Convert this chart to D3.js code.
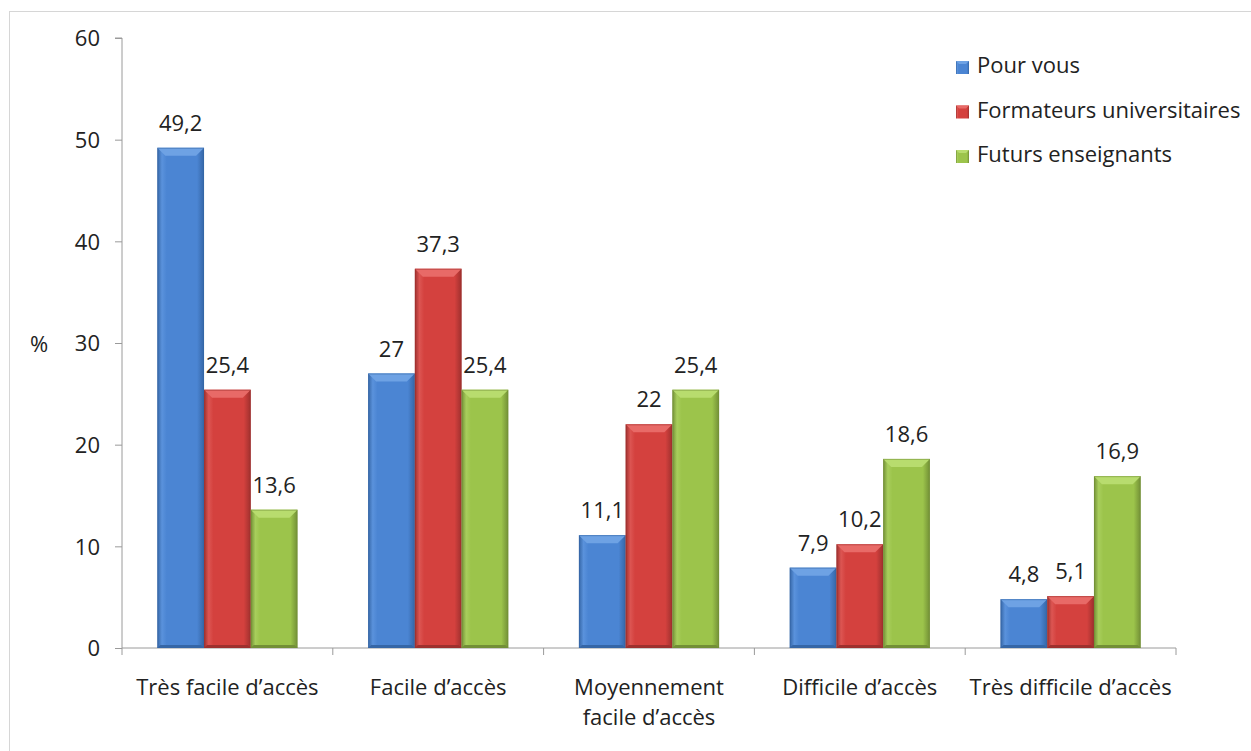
<!DOCTYPE html>
<html><head><meta charset="utf-8">
<script src="https://cdn.jsdelivr.net/npm/d3@7"></script>
<style>
body{margin:0;background:#fff;}
svg text{font-family:"Open Sans",Lato,sans-serif;fill:#222;}
</style></head>
<body><svg id="c" width="1251" height="751"></svg>
<script>
const categories = [["Très facile d’accès"],["Facile d’accès"],["Moyennement","facile d’accès"],["Difficile d’accès"],["Très difficile d’accès"]];
const seriesNames = ["Pour vous","Formateurs universitaires","Futurs enseignants"];
const pourVous = [49.2, 27, 11.1, 7.9, 4.8];
const formateurs = [25.4, 37.3, 22, 10.2, 5.1];
const futurs = [13.6, 25.4, 25.4, 18.6, 16.9];
const labelsPV = ["49,2","27","11,1","7,9","4,8"];
const labelsFo = ["25,4","37,3","22","10,2","5,1"];
const labelsFu = ["13,6","25,4","25,4","18,6","16,9"];
const yTicks = [0,10,20,30,40,50,60];

const series = [pourVous, formateurs, futurs];
const labels = [labelsPV, labelsFo, labelsFu];
const palette = [
  {edge:"#3566a6", mid:"#4b85d3", light:"#6ea2e4", side:"#5a92dc"},
  {edge:"#9e302e", mid:"#d4413e", light:"#e86a67", side:"#dc5552"},
  {edge:"#728f36", mid:"#9cc44b", light:"#b8dc6e", side:"#a8ce5c"}
];
const FS = 22;

const svg = d3.select("#c");
const defs = svg.append("defs");
palette.forEach((p,i)=>{
  const g = defs.append("linearGradient").attr("id","g"+i).attr("x1","0").attr("x2","1").attr("y1","0").attr("y2","0");
  g.append("stop").attr("offset","0").attr("stop-color",p.edge);
  g.append("stop").attr("offset","0.1").attr("stop-color",p.side);
  g.append("stop").attr("offset","0.2").attr("stop-color",p.mid);
  g.append("stop").attr("offset","0.85").attr("stop-color",p.mid);
  g.append("stop").attr("offset","1").attr("stop-color",p.edge);
});

// frame
svg.append("rect").attr("x",9.5).attr("y",11.5).attr("width",1300).attr("height",800)
  .attr("fill","none").attr("stroke","#d6d6d6");

const pL=122, pR=1176, pT=38, pB=648;
const y = d3.scaleLinear().domain([0,60]).range([pB,pT]);
const x0 = d3.scaleBand().domain(d3.range(categories.length)).range([pL,pR]).paddingInner(0.335).paddingOuter(0.1675);
const x1 = d3.scaleBand().domain(d3.range(3)).range([0,x0.bandwidth()]);

// axes
const yAxis = d3.axisLeft(y).tickValues(yTicks).tickSize(7).tickPadding(15).tickFormat(d3.format("d"));
const ya = svg.append("g").attr("transform",`translate(${pL},0)`).call(yAxis);
ya.select(".domain").attr("stroke","#9a9a9a").attr("d",`M-7,${pT}H0V${pB}`);
ya.selectAll(".tick line").attr("stroke","#9a9a9a");
ya.selectAll(".tick text").attr("font-size",FS).attr("fill","#222").attr("dy","0.36em")
  .attr("font-family","'Open Sans',sans-serif");

const step = (pR-pL)/categories.length;
const xg = svg.append("g");
xg.append("line").attr("x1",pL).attr("x2",pR).attr("y1",pB).attr("y2",pB).attr("stroke","#9a9a9a");
d3.range(categories.length+1).forEach(i=>{
  xg.append("line").attr("x1",pL+i*step).attr("x2",pL+i*step).attr("y1",pB).attr("y2",pB+7).attr("stroke","#9a9a9a");
});

svg.append("text").attr("x",39).attr("y",352).attr("text-anchor","middle").attr("font-size",FS).text("%");

// bars
const groups = svg.append("g").selectAll("g").data(categories).join("g")
  .attr("transform",(d,i)=>`translate(${x0(i)},0)`);
series.forEach((vals,s)=>{
  const p = palette[s];
  groups.each(function(d,i){
    const g = d3.select(this);
    const bx = x1(s), bw = x1.bandwidth(), by = y(vals[i]), bh = pB - y(vals[i]);
    const b = Math.min(8, bh/2);
    g.append("rect").attr("x",bx).attr("y",by).attr("width",bw).attr("height",bh).attr("fill",`url(#g${s})`);
    g.append("path").attr("d",`M${bx},${by}H${bx+bw}L${bx+bw-b},${by+b}H${bx+b}Z`).attr("fill",p.light);
    g.append("path").attr("d",`M${bx},${pB}H${bx+bw}L${bx+bw-3},${pB-3}H${bx+3}Z`).attr("fill",p.edge);
    g.append("rect").attr("x",bx+0.5).attr("y",by+0.5).attr("width",bw-1).attr("height",bh-1).attr("fill","none").attr("stroke",p.edge).attr("stroke-opacity",0.55);
    g.append("text").attr("x",bx+bw/2).attr("y",by-17).attr("text-anchor","middle").attr("font-size",FS).text(labels[s][i]);
  });
});

// category labels
groups.each(function(d,i){
  const t = d3.select(this).append("text").attr("text-anchor","middle").attr("font-size",FS);
  d.forEach((line,k)=>{
    t.append("tspan").attr("x",x0.bandwidth()/2).attr("y",695+k*30).text(line);
  });
});

// legend
const lg = svg.append("g").selectAll("g").data(seriesNames).join("g")
  .attr("transform",(d,i)=>`translate(956,${67+i*44.5})`);
lg.append("rect").attr("x",0).attr("y",-6).attr("width",13).attr("height",13).attr("fill",(d,i)=>`url(#g${i})`);
lg.append("path").attr("d","M0,-6H13L10,-3H3Z").attr("fill",(d,i)=>palette[i].light);
lg.append("text").attr("x",21).attr("y",6).attr("font-size",FS).text(d=>d);
</script></body></html>
